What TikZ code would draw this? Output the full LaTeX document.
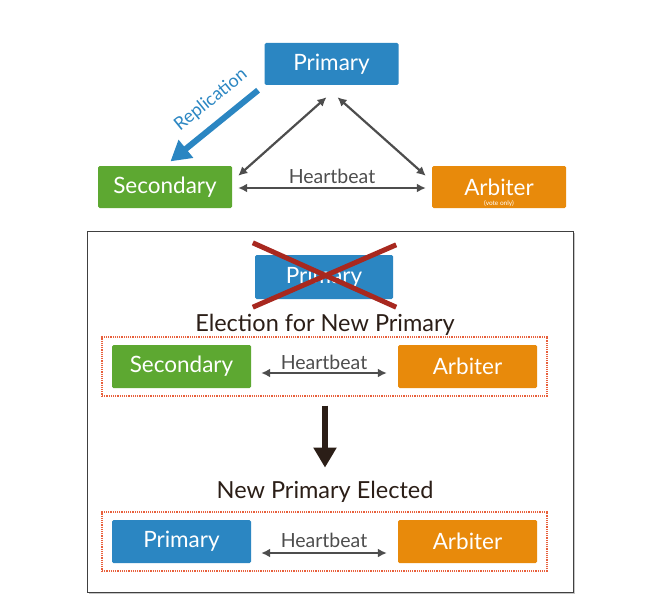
\documentclass[tikz,border=0pt]{standalone}
\usepackage{fontspec}
\setmainfont{Lato}
\usetikzlibrary{positioning, calc, arrows.meta, shadows}
\definecolor{mgblue}{HTML}{2B86C2}
\definecolor{mggreen}{HTML}{5DA831}
\definecolor{mgorange}{HTML}{E88A0B}
\definecolor{mgarrow}{HTML}{4D4D4D}
\definecolor{mgbrown}{HTML}{2B1E17}
\definecolor{mgred}{HTML}{A8281F}
\definecolor{mgdots}{HTML}{E8603C}

\begin{document}
\begin{tikzpicture}[x=1pt, y=-1pt, >=Latex,
    member/.style={rectangle, rounded corners=1.5pt, minimum width=134pt, minimum height=42pt,
        inner sep=0pt, text=white, font=\fontsize{22.5}{26}\selectfont},
    wide member/.style={member, minimum width=139pt, minimum height=43pt},
    beat/.style={{Latex[length=9pt,width=9pt]}-{Latex[length=9pt,width=9pt]}, draw=mgarrow, line width=2.2pt},
    beatlabel/.style={text=mgarrow, font=\fontsize{19.5}{22}\selectfont, anchor=base},
    heading/.style={text=mgbrown, font=\fontsize{23.5}{27}\selectfont, anchor=base},
    group/.style={draw=mgdots, densely dotted, line width=1.2pt, minimum width=445pt, minimum height=59pt}]

    \useasboundingbox (0,0) rectangle (660,604);

    % 1. Replica set: Primary, Secondary, Arbiter
    \node[member, fill=mgblue] (prim) at (331.5,64) {Primary};
    \node[member, fill=mggreen] (sec) at (165,187) {Secondary};
    \node[member, fill=mgorange,
        label={[text=white, font=\fontsize{6.5}{7}\selectfont, yshift=11pt]below:(vote only)}] (arb) at (499,187) {Arbiter};

    % 2. Replication and heartbeats
    \draw[-{Triangle[length=20pt,width=22pt]}, mgblue, line width=6pt,
        shorten <=8pt, shorten >=7pt] (prim.south west) -- (sec.north);
    \node[text=mgblue, rotate=39, font=\fontsize{18}{21}\selectfont] (repl) at (211,100) {Replication};
    \draw[beat] ($(prim.south)+(-5,12)$) -- ($(sec.north east)+(6,10)$);
    \draw[beat] ($(prim.south)+(6,12)$) -- ($(arb.north west)+(-6,10)$);
    \draw[beat] ($(sec.east)+(6,1)$) -- ($(arb.west)+(-6,1)$)
        node[beatlabel, midway, yshift=5pt] {Heartbeat};

    % 3. Failover panel
    \node[draw=black!75, line width=1pt, fill=white, minimum width=486pt, minimum height=361pt,
        drop shadow={shadow xshift=2pt, shadow yshift=-2pt, opacity=0.45}] (panel) at (330,411.5) {};

    \node[wide member, minimum width=138pt, minimum height=44pt, fill=mgblue] (oldprim) at (324,277) {Primary};
    \draw[mgred, line width=5pt] ($(oldprim.north west)+(-2,-12)$) -- ($(oldprim.south east)+(3,8)$);
    \draw[mgred, line width=5pt] ($(oldprim.south west)+(-2,8)$) -- ($(oldprim.north east)+(3,-10)$);
    \node[heading] (election) at (325,331) {Election for New Primary};

    \node[group] (grp1) at (324.5,366.5) {};
    \node[wide member, fill=mggreen] (sec2) at (181.5,366.5) {Secondary};
    \node[wide member, fill=mgorange] (arb2) at (467.5,366.5) {Arbiter};
    \draw[beat] ($(sec2.east)+(10,6.5)$) -- ($(arb2.west)+(-11,6.5)$);
    \node[beatlabel] (beat2) at (324,369) {Heartbeat};

    % 4. Outcome
    \node[heading] (elected) at (325,498) {New Primary Elected};
    \draw[mgbrown, line width=6pt, -{Triangle[length=20pt,width=22pt]}]
        ($(grp1.south)+(0.5,9)$) -- ($(grp1.south)+(0.5,71)$);

    \node[group] (grp2) at (324.5,541.5) {};
    \node[wide member, fill=mgblue] (prim3) at (181.5,541.5) {Primary};
    \node[wide member, fill=mgorange] (arb3) at (467.5,541.5) {Arbiter};
    \draw[beat] ($(prim3.east)+(10,11.5)$) -- ($(arb3.west)+(-11,11.5)$);
    \node[beatlabel] (beat3) at (324,547) {Heartbeat};
\end{tikzpicture}
\end{document}
